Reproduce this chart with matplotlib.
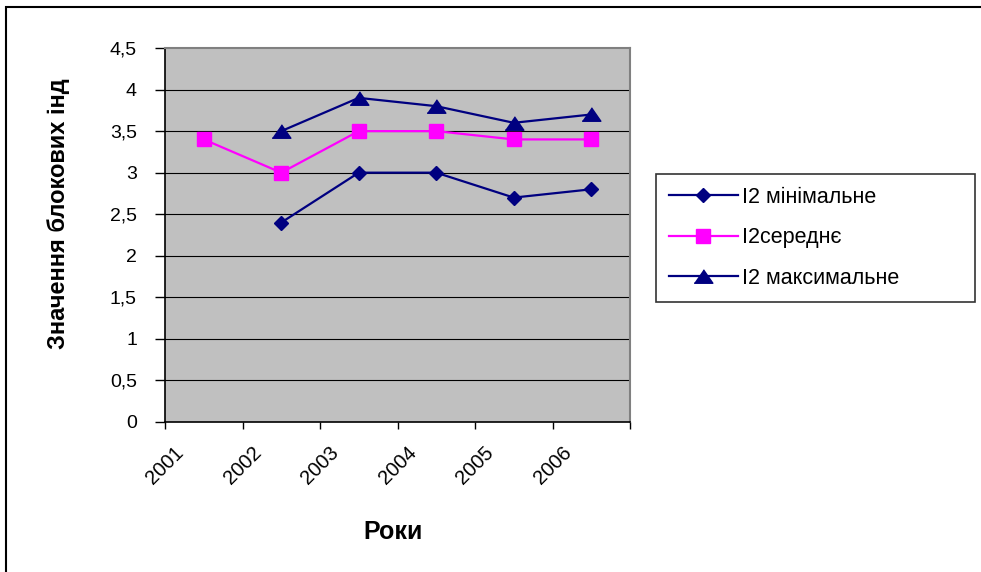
import matplotlib
matplotlib.use('Agg')
import matplotlib.pyplot as plt
from matplotlib.transforms import ScaledTranslation
from matplotlib.patches import Rectangle
import numpy as np

plt.rcParams['font.family'] = ['Liberation Sans', 'DejaVu Sans']

years = ['2001', '2002', '2003', '2004', '2005', '2006']
i2_min = [np.nan, 2.4, 3.0, 3.0, 2.7, 2.8]
i2_mean = [3.4, 3.0, 3.5, 3.5, 3.4, 3.4]
i2_max = [np.nan, 3.5, 3.9, 3.8, 3.6, 3.7]
series_labels = ['І2 мінімальне', 'І2середнє', 'І2 максимальне']
y_ticks = [0, 0.5, 1, 1.5, 2, 2.5, 3, 3.5, 4, 4.5]
y_tick_labels = ['0', '0,5', '1', '1,5', '2', '2,5', '3', '3,5', '4', '4,5']

W, H = 981, 572
fig = plt.figure(figsize=(W / 100, H / 100), dpi=100)
fig.patch.set_facecolor('white')
ax = fig.add_axes([165 / W, 1 - 422 / H, (630 - 165) / W, (422 - 48) / H])
ax.set_facecolor('#C0C0C0')

x = np.arange(len(years)) + 0.5
navy = '#000080'
magenta = '#FF00FF'
tri = [(-1, -0.72), (1, -0.72), (0, 0.72)]

ax.plot(x, i2_min, color=navy, lw=1.6, marker='D', ms=7, mfc=navy, mec=navy,
        label=series_labels[0], zorder=3)
ax.plot(x, i2_mean, color=magenta, lw=1.6, marker='s', ms=9.5, mfc=magenta, mec=magenta,
        label=series_labels[1], zorder=3)
ax.plot(x, i2_max, color=navy, lw=1.6, marker=tri, ms=13.5, mfc=navy, mec=navy,
        label=series_labels[2], zorder=3)

ax.set_xlim(0, len(years))
ax.set_ylim(0, 4.5)
ax.set_yticks(y_ticks)
ax.set_yticklabels(y_tick_labels, fontsize=14)
for yv in y_ticks[1:-1]:
    ax.axhline(yv, color='black', lw=0.8, zorder=1)

ax.set_xticks(np.arange(len(years) + 1))
ax.set_xticklabels([''] * (len(years) + 1))
ax.set_xticks(x, minor=True)
ax.set_xticklabels(years, minor=True, fontsize=14.5, rotation=45, ha='right', va='center',
                   rotation_mode='anchor')
ax.tick_params(axis='x', which='major', direction='out', length=5, width=1)
ax.tick_params(axis='x', which='minor', length=0, pad=20)
ax.tick_params(axis='y', direction='out', length=7.2, width=1, pad=13)
off = ScaledTranslation(-23 / 100, 0, fig.dpi_scale_trans)
for lbl in ax.get_xticklabels(minor=True):
    lbl.set_transform(lbl.get_transform() + off)

for s in ['left', 'bottom']:
    ax.spines[s].set_color('black')
    ax.spines[s].set_linewidth(1.2)
for s in ['top', 'right']:
    ax.spines[s].set_color('#808080')
    ax.spines[s].set_linewidth(1.5)

ax.set_ylabel('Значення блокових інд', fontsize=17, fontweight='bold')
ax.yaxis.set_label_coords(-0.205, 0.556)
ax.set_xlabel('Роки', fontsize=18, fontweight='bold')
ax.xaxis.set_label_coords(0.49, -0.262)

leg = fig.legend(loc='upper left',
                 bbox_to_anchor=(656 / W, 1 - 297 / H, (975 - 656) / W, (297 - 174) / H),
                 mode='expand',
                 fontsize=15.5, frameon=True, fancybox=False, shadow=False,
                 handlelength=3.2, labelspacing=0.9, borderpad=0.6,
                 handletextpad=0.2, borderaxespad=0)
leg.get_frame().set_edgecolor('black')
leg.get_frame().set_linewidth(1.2)

fig.patches.append(Rectangle((6 / W, -0.1), 2, 1 - 7 / H + 0.1, fill=False,
                             ec='black', lw=1.5, transform=fig.transFigure))

fig.savefig('out.png', dpi=100)
